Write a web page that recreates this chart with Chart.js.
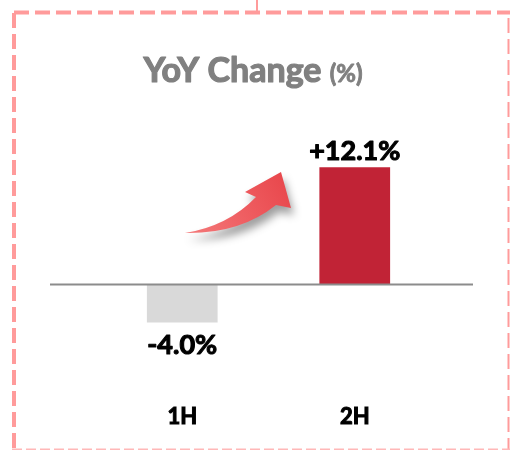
<!DOCTYPE html>
<html>
<head>
<meta charset="utf-8">
<script src="https://cdn.jsdelivr.net/npm/chart.js@4"></script>
<style>
html,body{margin:0;padding:0;background:#fff;}
#wrap{width:510px;height:450px;position:relative;}
</style>
</head>
<body>
<div id="wrap"><canvas id="c" width="510" height="450"></canvas></div>
<script>
// ---- data ----
const categories = ['1H', '2H'];
const yoyValues = [-4.0, 12.1];
const titleMain = 'YoY Change';
const titleUnit = '(%)';

// ---- styles ----
const barColors = ['#D9D9D9', '#C12336'];
const FONT = 'Lato, "Open Sans", sans-serif';

function fmt(v){ return (v > 0 ? '+' : '') + v.toFixed(1) + '%'; }

function boldText(ctx, text, x, y, color, stroke){
  ctx.fillStyle = color;
  ctx.strokeStyle = color;
  ctx.lineWidth = stroke;
  ctx.lineJoin = 'round';
  ctx.strokeText(text, x, y);
  ctx.fillText(text, x, y);
}

const decorPlugin = {
  id: 'decor',
  beforeDraw(chart){
    const ctx = chart.ctx;
    ctx.save();
    // dashed frame
    ctx.strokeStyle = '#FF9B9B';
    ctx.lineCap = 'butt';
    ctx.lineWidth = 4;
    ctx.setLineDash([15, 6]);
    ctx.beginPath(); ctx.moveTo(14, 12.5); ctx.lineTo(510, 12.5); ctx.stroke();
    ctx.beginPath(); ctx.moveTo(14, 13); ctx.lineTo(14, 450); ctx.stroke();
    ctx.lineWidth = 2;
    ctx.beginPath(); ctx.moveTo(508.5, 18); ctx.lineTo(508.5, 450); ctx.stroke();
    ctx.setLineDash([]);
    ctx.beginPath(); ctx.moveTo(257, 0); ctx.lineTo(257, 12); ctx.stroke();
    ctx.strokeStyle = '#FFB8B8';
    ctx.lineWidth = 1.5;
    ctx.setLineDash([10, 4]);
    ctx.beginPath(); ctx.moveTo(12, 449.2); ctx.lineTo(510, 449.2); ctx.stroke();
    ctx.setLineDash([]);

    // title
    ctx.textBaseline = 'alphabetic';
    ctx.font = 'bold 34px ' + FONT;
    const w1 = ctx.measureText(titleMain + ' ').width;
    ctx.font = 'bold 24px ' + FONT;
    const w2 = ctx.measureText(titleUnit).width;
    let x0 = 253 - (w1 + w2) / 2;
    ctx.font = 'bold 34px ' + FONT;
    ctx.textAlign = 'left';
    boldText(ctx, titleMain + ' ', x0, 82, '#808080', 1.2);
    ctx.font = 'bold 24px ' + FONT;
    boldText(ctx, titleUnit, x0 + w1, 82, '#808080', 0.9);
    ctx.restore();
  },
  afterDatasetsDraw(chart){
    const ctx = chart.ctx;
    const ys = chart.scales.y;
    const area = chart.chartArea;
    ctx.save();
    // zero line
    const y0 = Math.round(ys.getPixelForValue(0)) + 0.5;
    ctx.strokeStyle = '#8C8C8C';
    ctx.lineWidth = 2;
    ctx.beginPath();
    ctx.moveTo(area.left - 46, y0);
    ctx.lineTo(area.right + 32, y0);
    ctx.stroke();

    // value labels
    const meta = chart.getDatasetMeta(0);
    ctx.font = 'bold 27px ' + FONT;
    ctx.textAlign = 'center';
    ctx.textBaseline = 'alphabetic';
    meta.data.forEach((bar, i) => {
      const v = yoyValues[i];
      const ty = v >= 0 ? bar.y - 7 : bar.y + 32;
      boldText(ctx, fmt(v), bar.x, ty, '#000', 1.1);
    });

    // curved arrow
    ctx.save();
    ctx.shadowColor = 'rgba(0,0,0,0.38)';
    ctx.shadowBlur = 8;
    ctx.shadowOffsetX = 3;
    ctx.shadowOffsetY = 7;
    const g = ctx.createLinearGradient(185, 233, 285, 175);
    g.addColorStop(0, '#F47A7A');
    g.addColorStop(0.6, '#EE5A5E');
    g.addColorStop(1, '#E8474C');
    ctx.fillStyle = g;
    ctx.beginPath();
    ctx.moveTo(185, 233);
    ctx.quadraticCurveTo(228, 226, 256, 197);
    ctx.lineTo(245, 192);
    ctx.lineTo(281, 172);
    ctx.lineTo(291, 208);
    ctx.lineTo(276, 205);
    ctx.quadraticCurveTo(240, 234, 185, 233);
    ctx.closePath();
    ctx.fill();
    ctx.restore();
    ctx.restore();
  }
};

new Chart(document.getElementById('c'), {
  type: 'bar',
  data: {
    labels: categories,
    datasets: [{
      data: yoyValues,
      backgroundColor: barColors,
      borderWidth: 0,
      barPercentage: 0.41,
      categoryPercentage: 1.0
    }]
  },
  options: {
    responsive: false,
    animation: false,
    devicePixelRatio: 1,
    layout: { padding: { top: 91, bottom: 16, left: 96, right: 69 } },
    plugins: { legend: { display: false }, tooltip: { enabled: false }, title: { display: false } },
    scales: {
      y: { display: false, min: -12, max: 20 },
      x: {
        grid: { display: false, drawTicks: false },
        border: { display: false },
        ticks: {
          color: '#000', padding: 4,
          textStrokeColor: '#000', textStrokeWidth: 1,
          font: { family: FONT, size: 22, weight: 'bold' }
        }
      }
    }
  },
  plugins: [decorPlugin]
});
</script>
</body>
</html>
